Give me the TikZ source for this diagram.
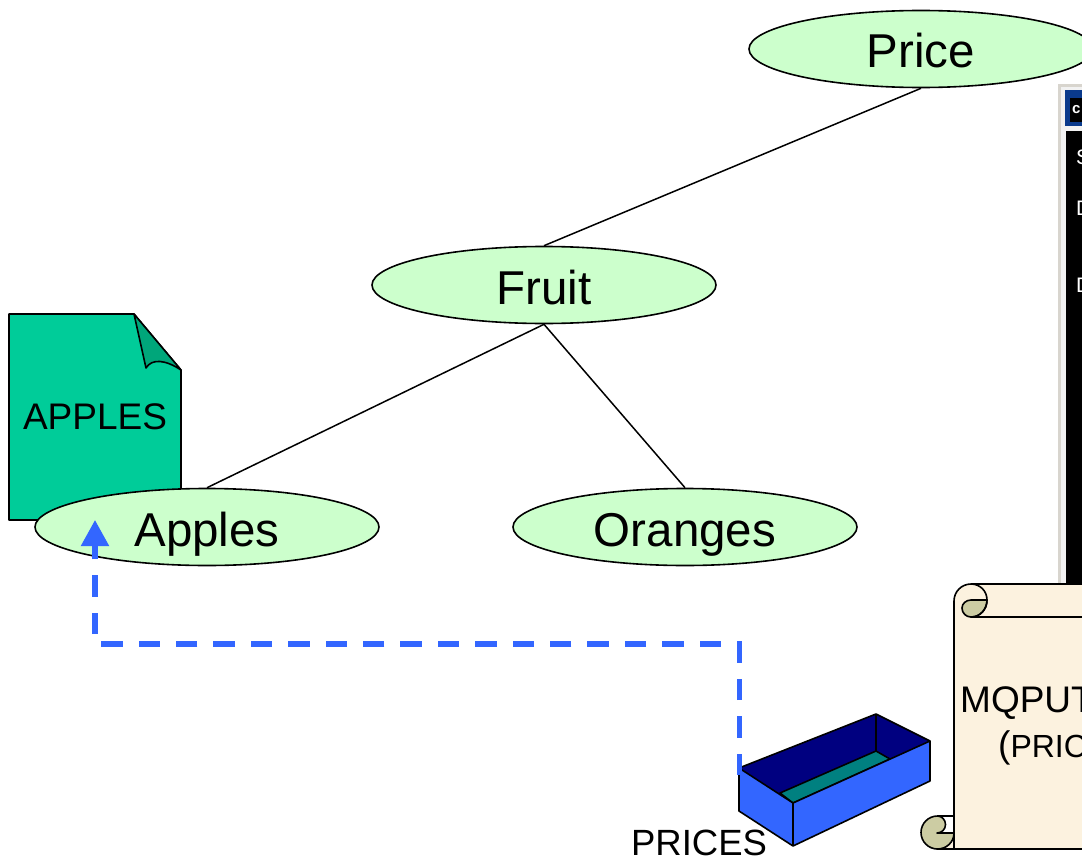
\documentclass[tikz,border=0pt]{standalone}
\usepackage{fontspec}
\setmainfont{Liberation Sans}
\usepackage{xcolor}
\usetikzlibrary{arrows.meta,shapes.geometric,positioning}
\definecolor{leafgreen}{HTML}{CCFFCC}
\definecolor{docgreen}{HTML}{00CC99}
\definecolor{foldgreen}{HTML}{00A67A}
\definecolor{queueblue}{HTML}{3366FF}
\definecolor{queuenavy}{HTML}{000080}
\definecolor{queueteal}{HTML}{008080}
\definecolor{parchment}{HTML}{FCF2DF}
\definecolor{curlolive}{HTML}{CCCCA3}
\definecolor{consoleblue}{HTML}{0A3A8C}
\definecolor{consolegrey}{HTML}{D8D5CE}
\tikzset{
    topic/.style={draw=black, fill=leafgreen, line width=1.6pt, ellipse, minimum width=344pt, minimum height=77pt, inner sep=0pt, text height=38pt, text depth=0pt, font=\fontsize{47.5}{50}\selectfont},
    tree/.style={line width=1.5pt},
    outline/.style={draw=black, line width=1.6pt, line join=round},
    flow/.style={line width=5.2pt, queueblue, dash pattern=on 21.4pt off 16pt, -{Triangle[length=26pt,width=27pt]}},
    bigtext/.style={inner sep=0pt, font=\fontsize{37}{40}\selectfont},
    console/.style={inner sep=0pt, anchor=west, text=white, font=\fontsize{21}{24}\selectfont}
}
\begin{document}
\begin{tikzpicture}[x=1pt, y=-1pt]
    \useasboundingbox (0,0) rectangle (1082,859);
    \clip (0,0) rectangle (1082,859);

    % Console window
    \fill[consolegrey] (1058,84) rectangle (1082,600);
    \fill[white!95!black] (1061,87) rectangle (1082,600);
    \fill[consoleblue] (1065,90) rectangle (1082,126);
    \fill[black] (1066,131) rectangle (1082,600);
    \fill[black] (1070,98) rectangle (1082,122);
    \node[inner sep=0pt, anchor=west, text=white, font=\bfseries\fontsize{15}{15}\selectfont] (icon) at (1072,110) {c};
    \node[console] (lineS) at (1076,157) {S};
    \node[console] (lineD) at (1076,208) {D};
    \node[console] (lineE) at (1076,285) {D};

    % Document behind the tree
    \draw[outline, fill=docgreen] (9,314) -- (134,314) -- (181,370) -- (181,520) -- (9,520) -- cycle;
    \draw[outline, fill=foldgreen] (134,314) -- (146,368) .. controls (152,358) and (166,360) .. (181,370) -- cycle;
    \node[bigtext] (applesdoc) at (95,417) {APPLES};

    % Topic tree
    \node[topic] (price) at (921,49) {Price};
    \node[topic] (fruit) at (544,285) {Fruit};
    \node[topic] (apples) at (207,527) {Apples};
    \node[topic] (oranges) at (685,527) {Oranges};
    \draw[tree] (price.south) -- (fruit.north);
    \draw[tree] (fruit.south) -- (apples.north);
    \draw[tree] (fruit.south) -- (oranges.north);

    % Queue
    \fill[queuenavy] (739,768) -- (876,714) -- (930,741) -- (793,803) -- cycle;
    \draw[outline, fill=queueteal] (780,793) -- (876,751) -- (890,759) -- (793,803) -- cycle;
    \draw[outline] (876,714) -- (876,751);
    \draw[outline, fill=queueblue] (739,768) -- (793,803) -- (930,741) -- (930,781) -- (793,846) -- (739,811) -- cycle;
    \draw[outline] (793,803) -- (793,846);
    \draw[outline] (739,768) -- (876,714) -- (930,741);
    \node[inner sep=0pt, font=\fontsize{36.5}{40}\selectfont] (prices) at (699,843) {PRICES};

    % Subscription path
    \coordinate (queuetop) at (739.5,775);
    \coordinate (corner) at (739.5,644);
    \coordinate (applestip) at (95,520);
    \draw[flow] (queuetop) -- (corner) -| (applestip);

    % Scroll
    \draw[outline, fill=parchment] (954,601) .. controls (954,591.6) and (961.6,584) .. (971,584) -- (1100,584) -- (1100,849) -- (937,849) .. controls (946.4,849) and (954,841.4) .. (954,832) -- cycle;
    \draw[outline, fill=curlolive] (971,600) -- (987,600) .. controls (987,609.5) and (980,617) .. (971,617) .. controls (966,617) and (962,613) .. (962,608) .. controls (962,603.6) and (966,600) .. (971,600) -- cycle;
    \draw[outline] (971,584) .. controls (980,584) and (987,591) .. (987,600) .. controls (987,609.5) and (980,617) .. (971,617) -- (1100,617);
    \draw[outline, fill=curlolive] (954,833) .. controls (954,842) and (946.5,849) .. (937.5,849) .. controls (928.4,849) and (921,841.6) .. (921,832.5) .. controls (921,823.4) and (928.4,816) .. (937.5,816) .. controls (942,816) and (945.5,820) .. (945.5,824.5) .. controls (945.5,829) and (942,833) .. (937,833) -- cycle;
    \draw[outline] (937.5,816) -- (954,816);
    \draw[outline] (954,601) -- (954,849);
    \node[inner sep=0pt, anchor=west, font=\fontsize{37}{40}\selectfont] (mqput) at (960,703) {MQPUT};
    \node[inner sep=0pt, anchor=west, font=\fontsize{37}{40}\selectfont] (pricearg) at (998,748) {(\fontsize{32}{40}\selectfont PRIC};
\end{tikzpicture}
\end{document}
